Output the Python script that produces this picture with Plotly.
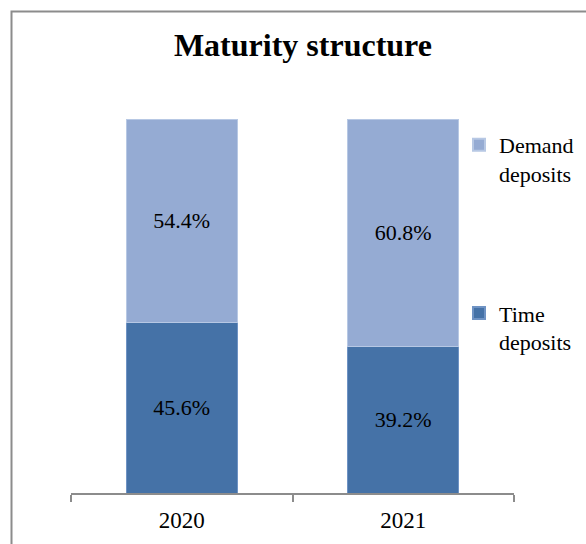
import plotly.graph_objects as go

years = ["2020", "2021"]
time_dep = [45.6, 39.2]
demand_dep = [54.4, 60.8]
time_labels = ["45.6%", "39.2%"]
demand_labels = ["54.4%", "60.8%"]

FONT = "Liberation Serif, Times New Roman, serif"
W, H = 586, 544
L, R, T, B = 71, 72, 119, 51
pw, ph = W - L - R, H - T - B

def px(x):
    return (x - L) / pw

def py(y):
    return (H - B - y) / ph

fig = go.Figure()
fig.add_trace(go.Bar(
    x=years, y=time_dep, name="Time<br>deposits",
    marker=dict(color="#4572A7", line=dict(color="#6f93c4", width=1)),
    text=time_labels, textposition="inside", insidetextanchor="middle",
    textfont=dict(family=FONT, size=22, color="#000000"),
    legendgroup="t", legendrank=2, hoverinfo="skip",
))
fig.add_trace(go.Bar(
    x=years, y=demand_dep, name="Demand<br>deposits",
    marker=dict(color="#95ABD3", line=dict(color="#b7c8e4", width=1)),
    text=demand_labels, textposition="inside", insidetextanchor="middle",
    textfont=dict(family=FONT, size=22, color="#000000"),
    legendgroup="d", legendrank=1, hoverinfo="skip",
))

fig.update_layout(
    width=W, height=H,
    margin=dict(l=L, r=R, t=T, b=B, autoexpand=False),
    barmode="stack", bargap=0.5,
    paper_bgcolor="white", plot_bgcolor="white",
    font=dict(family=FONT, size=22, color="#000000"),
    title=dict(text="<b>Maturity structure</b>", x=px(300), xanchor="center",
               y=1 - 45 / H, yanchor="middle",
               font=dict(family=FONT, size=32, color="#000000")),
    xaxis=dict(showline=True, linecolor="#8c8c8c", linewidth=1.5,
               ticks="outside", tickson="boundaries", ticklen=7,
               tickcolor="#8c8c8c", tickwidth=1.5, ticklabelstandoff=6,
               tickfont=dict(family=FONT, size=23, color="#000000"),
               showgrid=False),
    yaxis=dict(range=[0, 100], visible=False, showgrid=False),
    legend=dict(x=px(459), y=py(124), xanchor="left", yanchor="top",
                traceorder="grouped", tracegroupgap=108,
                valign="top", bgcolor="rgba(0,0,0,0)",
                font=dict(family=FONT, size=22, color="#000000"),
                itemsizing="constant"),
    showlegend=True,
    shapes=[dict(type="rect", xref="paper", yref="paper",
                 x0=px(11.5), y0=py(600), x1=px(620), y1=py(11.5),
                 line=dict(color="#8c8c8c", width=2), fillcolor="rgba(0,0,0,0)",
                 layer="below")],
)

fig.write_html("out.html")
